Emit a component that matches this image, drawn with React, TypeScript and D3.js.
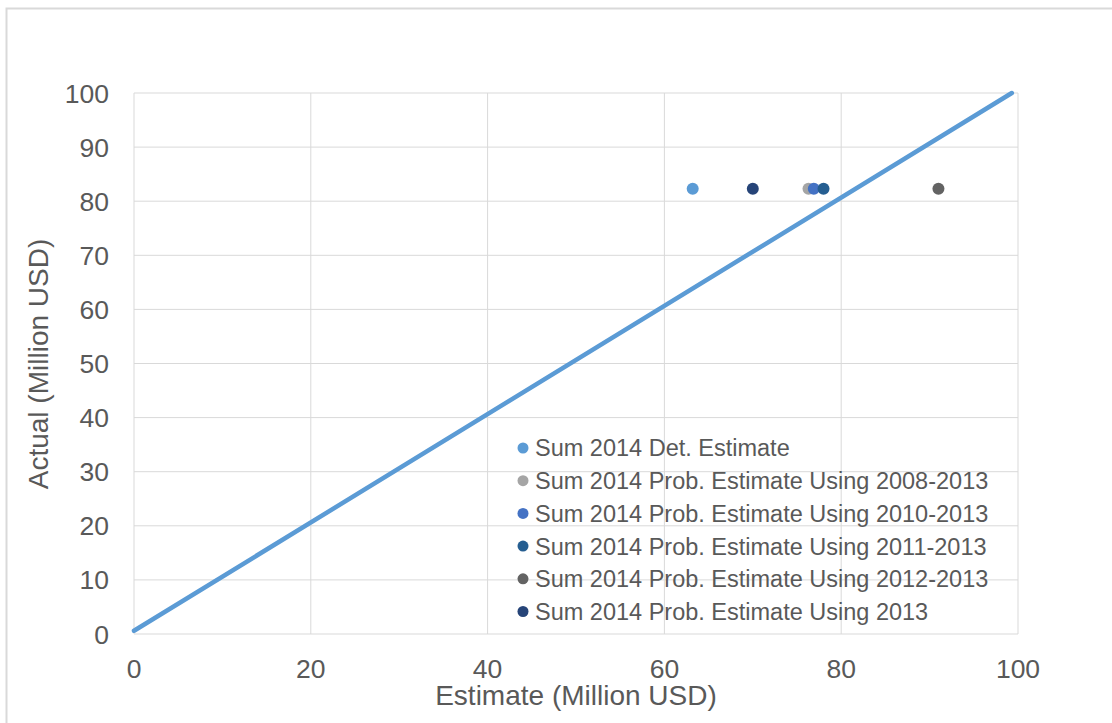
import React from "react";
import * as d3 from "d3";

const seriesNames = [
  "Sum 2014 Det. Estimate",
  "Sum 2014 Prob. Estimate Using 2008-2013",
  "Sum 2014 Prob. Estimate Using 2010-2013",
  "Sum 2014 Prob. Estimate Using 2011-2013",
  "Sum 2014 Prob. Estimate Using 2012-2013",
  "Sum 2014 Prob. Estimate Using 2013",
];
const seriesX = [63.2, 76.3, 76.9, 78.0, 91.0, 70.0];
const seriesY = [82.3, 82.3, 82.3, 82.3, 82.3, 82.3];
const seriesColors = ["#5B9BD5", "#A5A5A5", "#4472C4", "#255E91", "#636363", "#264478"];
const lineX = [0, 99.3];
const lineY = [0.6, 100];
const xTicks = [0, 20, 40, 60, 80, 100];
const yTicks = [0, 10, 20, 30, 40, 50, 60, 70, 80, 90, 100];

const W = 1112;
const H = 723;
const M = { left: 134, right: 1018, top: 93, bottom: 634 };
const FONT = "'Liberation Sans', Arial, sans-serif";
const TXT = "#595959";

export default function App() {
  const x = d3.scaleLinear().domain([0, 100]).range([M.left, M.right]);
  const y = d3.scaleLinear().domain([0, 100]).range([M.bottom, M.top]);
  const line = d3
    .line<number>()
    .x((_, i) => x(lineX[i]))
    .y((d) => y(d));
  const drawOrder = [0, 5, 1, 2, 3, 4];
  return (
    <svg width={W} height={H} style={{ position: "absolute", left: 0, top: 0 }}>
      <rect x={0} y={0} width={W} height={H} fill="#fff" />
      <rect x={6.5} y={8.5} width={W + 10} height={H + 10} fill="none" stroke="#d9d9d9" strokeWidth={2} />
      {xTicks.map((t) => (
        <line key={"gx" + t} x1={x(t)} x2={x(t)} y1={M.top} y2={M.bottom} stroke="#d9d9d9" strokeWidth={1} />
      ))}
      {yTicks.map((t) => (
        <line key={"gy" + t} x1={M.left} x2={M.right} y1={y(t)} y2={y(t)} stroke="#d9d9d9" strokeWidth={1} />
      ))}
      {yTicks.map((t) => (
        <text key={"ty" + t} x={109} y={y(t)} dy="0.36em" textAnchor="end" fontFamily={FONT} fontSize={26.5} fill={TXT}>
          {t}
        </text>
      ))}
      {xTicks.map((t) => (
        <text key={"tx" + t} x={x(t)} y={678} textAnchor="middle" fontFamily={FONT} fontSize={26.5} fill={TXT}>
          {t}
        </text>
      ))}
      <text x={576} y={705} textAnchor="middle" fontFamily={FONT} fontSize={28} fill={TXT}>
        Estimate (Million USD)
      </text>
      <text
        transform={`translate(48,364) rotate(-90)`}
        textAnchor="middle"
        fontFamily={FONT}
        fontSize={28}
        fill={TXT}
      >
        Actual (Million USD)
      </text>
      <path d={line(lineY) || ""} fill="none" stroke="#5B9BD5" strokeWidth={4.5} strokeLinecap="round" />
      {drawOrder.map((i) => (
        <circle key={"p" + i} cx={x(seriesX[i])} cy={y(seriesY[i])} r={6} fill={seriesColors[i]} />
      ))}
      {seriesNames.map((n, i) => (
        <g key={"l" + i} transform={`translate(523,${448 + i * 32.7})`}>
          <circle cx={0} cy={0} r={5.5} fill={seriesColors[i]} />
          <text x={12} y={0} dy="0.36em" fontFamily={FONT} fontSize={23.5} fill={TXT}>
            {n}
          </text>
        </g>
      ))}
    </svg>
  );
}
